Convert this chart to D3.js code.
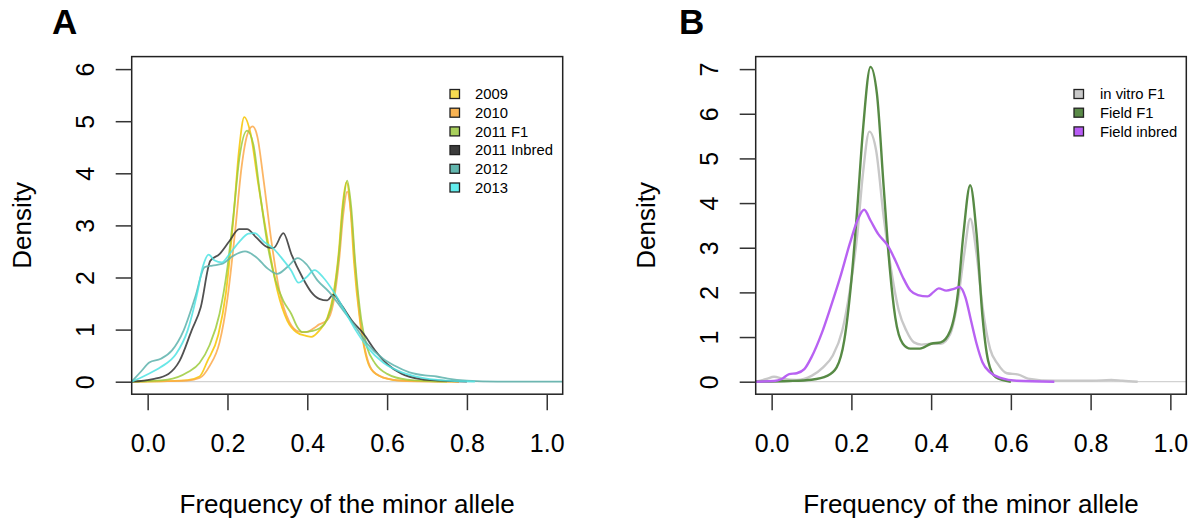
<!DOCTYPE html>
<html>
<head>
<meta charset="utf-8">
<script src="https://cdn.jsdelivr.net/npm/d3@7"></script>
<style>
  body { margin: 0; background: #fff; }
  svg text { font-family: "Liberation Sans", Arial, sans-serif; fill: #000; }
</style>
</head>
<body>
<div id="container"></div>
<script>
// ------ data ------
const xTicks = [0, 0.2, 0.4, 0.6, 0.8, 1.0];
const yTicksA = [0, 1, 2, 3, 4, 5, 6];
const yTicksB = [0, 1, 2, 3, 4, 5, 6, 7];

const namesA = ["2009", "2010", "2011 F1", "2011 Inbred", "2012", "2013"];
const lineColorsA = ["#f7c400", "#fca94a", "#9ccb3c", "#333333", "#5cb2ab", "#4fe3e3"];
const fillColorsA = ["#f6dc52", "#f9b352", "#a9d05c", "#3c3c3c", "#62b6ae", "#62ecec"];

const s2009 = [[-0.04,0],[0.05,0.01],[0.1,0.03],[0.13,0.1],[0.15,0.4],[0.177,0.9],[0.196,1.7],[0.215,3.15],[0.229,4.45],[0.242,5.08],[0.258,4.76],[0.277,3.8],[0.301,2.7],[0.325,1.75],[0.35,1.17],[0.373,0.95],[0.397,0.88],[0.41,0.86],[0.43,0.98],[0.45,1.22],[0.464,1.62],[0.479,2.5],[0.488,3.35],[0.498,3.83],[0.508,3.35],[0.517,2.3],[0.532,1.17],[0.546,0.53],[0.56,0.24],[0.59,0.08],[0.637,0.02],[0.78,0]];
const s2010 = [[-0.04,0],[0.05,0.01],[0.1,0.02],[0.13,0.07],[0.155,0.3],[0.18,0.75],[0.2,1.6],[0.22,2.95],[0.235,4.1],[0.25,4.75],[0.263,4.9],[0.275,4.7],[0.29,3.9],[0.31,2.7],[0.33,1.75],[0.355,1.15],[0.38,0.96],[0.397,0.95],[0.415,1.02],[0.43,1.1],[0.45,1.18],[0.465,1.5],[0.48,2.35],[0.49,3.2],[0.5,3.65],[0.51,3.2],[0.52,2.2],[0.535,1.05],[0.55,0.45],[0.565,0.2],[0.6,0.06],[0.65,0.01],[0.78,0]];
const s2011F1 = [[-0.04,0],[0.05,0.04],[0.1,0.18],[0.13,0.36],[0.155,0.7],[0.18,1.3],[0.2,2.2],[0.215,3.2],[0.23,4.3],[0.249,4.82],[0.265,4.55],[0.28,3.7],[0.3,2.65],[0.32,1.95],[0.34,1.55],[0.36,1.3],[0.375,1.05],[0.388,0.95],[0.41,0.97],[0.43,1.02],[0.45,1.2],[0.465,1.6],[0.48,2.5],[0.49,3.4],[0.5,3.86],[0.51,3.35],[0.52,2.3],[0.535,1.2],[0.55,0.65],[0.57,0.35],[0.6,0.15],[0.65,0.04],[0.75,0]];
const sInbred = [[-0.04,0],[0.013,0.05],[0.052,0.15],[0.08,0.4],[0.11,0.98],[0.133,1.43],[0.157,2.32],[0.18,2.45],[0.205,2.7],[0.229,2.93],[0.249,2.93],[0.272,2.77],[0.301,2.58],[0.316,2.57],[0.34,2.85],[0.36,2.45],[0.388,2.0],[0.41,1.72],[0.43,1.59],[0.45,1.56],[0.465,1.67],[0.484,1.49],[0.512,1.17],[0.541,0.92],[0.57,0.6],[0.6,0.34],[0.637,0.15],[0.685,0.05],[0.733,0.02],[0.8,0]];
const s2012 = [[-0.04,0],[-0.015,0.21],[0.004,0.37],[0.033,0.44],[0.061,0.6],[0.09,0.98],[0.119,1.62],[0.143,2.2],[0.162,2.23],[0.186,2.26],[0.215,2.42],[0.244,2.5],[0.272,2.39],[0.301,2.17],[0.325,2.07],[0.35,2.2],[0.376,2.37],[0.397,2.26],[0.426,1.94],[0.455,1.72],[0.484,1.43],[0.522,1.04],[0.551,0.72],[0.59,0.44],[0.618,0.31],[0.656,0.18],[0.695,0.12],[0.724,0.1],[0.752,0.06],[0.8,0.02],[0.877,0],[1.04,0]];
const s2013 = [[-0.04,0],[-0.006,0.12],[0.033,0.28],[0.071,0.53],[0.1,0.98],[0.124,1.69],[0.138,2.2],[0.153,2.44],[0.167,2.33],[0.186,2.29],[0.205,2.45],[0.229,2.68],[0.253,2.84],[0.268,2.85],[0.292,2.68],[0.316,2.55],[0.334,2.39],[0.36,2.13],[0.378,1.9],[0.397,2.0],[0.418,2.14],[0.44,2.0],[0.464,1.75],[0.493,1.37],[0.522,0.98],[0.551,0.66],[0.59,0.37],[0.637,0.18],[0.685,0.08],[0.733,0.03],[0.82,0]];
const seriesA = [s2009, s2010, s2011F1, sInbred, s2012, s2013];

const namesB = ["in vitro F1", "Field F1", "Field inbred"];
const lineColorsB = ["#c8c8c8", "#578a45", "#b862f2"];
const fillColorsB = ["#c8c8c8", "#5a8a48", "#b85cf5"];

const sVitroF1 = [[-0.04,0],[-0.013,0.06],[0.006,0.11],[0.03,0.06],[0.063,0.04],[0.1,0.13],[0.129,0.32],[0.153,0.58],[0.177,1.14],[0.196,2.04],[0.215,3.31],[0.229,4.66],[0.245,5.6],[0.262,5.18],[0.281,3.69],[0.3,2.49],[0.319,1.59],[0.338,1.14],[0.357,0.88],[0.376,0.83],[0.4,0.85],[0.424,0.85],[0.448,1.07],[0.467,1.82],[0.483,2.86],[0.498,3.65],[0.514,2.86],[0.529,1.67],[0.548,0.73],[0.567,0.4],[0.59,0.19],[0.619,0.16],[0.643,0.07],[0.709,0.02],[0.804,0.02],[0.852,0.04],[0.88,0.02],[0.918,0]];
const sFieldF1 = [[-0.04,0],[0.044,0.015],[0.1,0.045],[0.139,0.13],[0.163,0.32],[0.182,0.92],[0.2,2.27],[0.215,3.91],[0.229,5.63],[0.248,7.05],[0.264,6.45],[0.281,4.36],[0.296,2.57],[0.31,1.44],[0.329,0.85],[0.348,0.74],[0.372,0.74],[0.4,0.85],[0.424,0.88],[0.448,1.14],[0.467,1.97],[0.481,3.31],[0.498,4.4],[0.514,3.31],[0.529,1.44],[0.543,0.47],[0.562,0.1],[0.6,0]];
const sFieldInbred = [[-0.04,0],[0.006,0.015],[0.025,0.06],[0.044,0.17],[0.063,0.19],[0.082,0.28],[0.1,0.55],[0.125,1.07],[0.148,1.67],[0.172,2.34],[0.196,3.09],[0.215,3.61],[0.232,3.85],[0.248,3.61],[0.267,3.31],[0.291,3.05],[0.31,2.72],[0.329,2.34],[0.348,2.04],[0.367,1.94],[0.391,1.91],[0.405,2.0],[0.419,2.09],[0.438,2.04],[0.457,2.08],[0.471,2.12],[0.486,1.89],[0.5,1.37],[0.514,0.85],[0.529,0.43],[0.548,0.21],[0.576,0.08],[0.614,0.02],[0.709,0]];
const seriesB = [sVitroF1, sFieldF1, sFieldInbred];

// ------ layout ------
const width = 1194, height = 523;

const svg = d3.select('#container').append('svg')
  .attr('width', width)
  .attr('height', height);

function drawPanel(opt) {
  const x = d3.scaleLinear().domain([-0.04, 1.04]).range([opt.left, opt.right]);
  const y = d3.scaleLinear().domain(opt.yDomain).range([394.2, 56.6]);
  const g = svg.append('g');

  // zero line
  g.append('line')
    .attr('x1', x(-0.04)).attr('x2', x(1.04))
    .attr('y1', y(0)).attr('y2', y(0))
    .attr('stroke', '#d2d2d2').attr('stroke-width', 1.2);

  const line = d3.line()
    .x(d => x(d[0]))
    .y(d => y(d[1]))
    .curve(d3.curveMonotoneX);

  g.selectAll('.dens').data(opt.series)
    .enter().append('path')
    .attr('class', 'dens')
    .attr('d', d => line(d))
    .attr('fill', 'none')
    .attr('stroke', (d, i) => opt.colors[i])
    .attr('stroke-width', opt.lineWidth)
    .attr('stroke-opacity', opt.opacity)
    .attr('stroke-linejoin', 'round');

  // box
  g.append('rect')
    .attr('x', opt.left).attr('y', 56.6)
    .attr('width', opt.right - opt.left).attr('height', 394.2 - 56.6)
    .attr('fill', 'none').attr('stroke', '#222').attr('stroke-width', 1.5);

  // x axis
  const xa = g.append('g')
    .attr('transform', `translate(0,${y.range()[0]})`)
    .call(d3.axisBottom(x).tickValues(xTicks).tickSize(16).tickFormat(d3.format('.1f')));
  xa.select('.domain').remove();
  xa.selectAll('line').attr('stroke', '#333').attr('stroke-width', 1.5);
  xa.selectAll('text')
    .attr('y', 58).attr('dy', 0)
    .style('font-size', '25px')
    .attr('fill', '#000');

  // y axis
  const ya = g.append('g')
    .attr('transform', `translate(${opt.left},0)`)
    .call(d3.axisLeft(y).tickValues(opt.yTicks).tickSize(16).tickFormat(d3.format('d')));
  ya.select('.domain').remove();
  ya.selectAll('line').attr('stroke', '#333').attr('stroke-width', 1.5);
  ya.selectAll('text')
    .attr('x', 0).attr('dy', 0)
    .attr('text-anchor', 'middle')
    .attr('transform', 'translate(-38,0) rotate(-90)')
    .style('font-size', '25px')
    .attr('fill', '#000');

  // axis titles
  g.append('text')
    .attr('x', (opt.left + opt.right) / 2).attr('y', 513)
    .attr('text-anchor', 'middle')
    .style('font-size', '26px')
    .text('Frequency of the minor allele');

  g.append('text')
    .attr('transform', `translate(${opt.left - 101},225.4) rotate(-90)`)
    .attr('text-anchor', 'middle')
    .style('font-size', '26px')
    .text('Density');

  // panel letter
  g.append('text')
    .attr('x', opt.letterX).attr('y', 34)
    .style('font-size', '35px')
    .style('font-weight', 'bold')
    .text(opt.letter);

  // legend
  const leg = g.append('g').selectAll('g').data(opt.names)
    .enter().append('g')
    .attr('transform', (d, i) => `translate(${opt.legX},${94 + i * opt.legStep})`);
  leg.append('rect')
    .attr('x', 0).attr('y', -4.5)
    .attr('width', 9.5).attr('height', 9)
    .attr('fill', (d, i) => opt.fills[i])
    .attr('stroke', '#222').attr('stroke-width', 1.3);
  leg.append('text')
    .attr('x', opt.legText).attr('y', 0)
    .attr('dy', '0.36em')
    .style('font-size', '14.8px')
    .text(d => d);
}

drawPanel({
  left: 131.7, right: 562.7, yDomain: [-0.24, 6.24], yTicks: yTicksA,
  series: seriesA, colors: lineColorsA, lineWidth: 1.8, opacity: 0.85,
  letter: 'A', letterX: 52,
  names: namesA, fills: fillColorsA, legX: 450, legText: 25, legStep: 18.7
});

drawPanel({
  left: 755.7, right: 1186.3, yDomain: [-0.28, 7.28], yTicks: yTicksB,
  series: seriesB, colors: lineColorsB, lineWidth: 2.4, opacity: 1,
  letter: 'B', letterX: 679,
  names: namesB, fills: fillColorsB, legX: 1074, legText: 26, legStep: 18.7
});
</script>
</body>
</html>
